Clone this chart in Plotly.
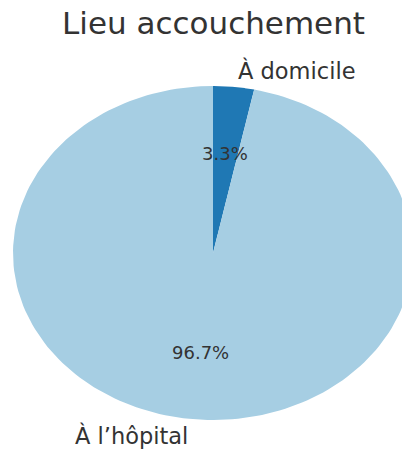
import numpy as np
import plotly.graph_objects as go

# Data
categories = ["À domicile", "À l’hôpital"]
values = [3.3, 96.7]
colors = ["#1f78b4", "#a6cee3"]
title_text = "Lieu accouchement"

W, H = 402, 450
# pie centre and radii in pixels (the pie is drawn as an ellipse)
cx_px, cy_px = 213, 253
rx_px, ry_px = 200, 167

x_range = [-cx_px / rx_px, (W - cx_px) / rx_px]
y_range = [-(H - cy_px) / ry_px, cy_px / ry_px]

font_family = "DejaVu Sans"
text_color = "#333333"

fig = go.Figure()

total = sum(values)
start = 90.0  # start at the top, go clockwise
annotations = []
for cat, val, col in zip(categories, values, colors):
    sweep = 360.0 * val / total
    end = start - sweep
    theta = np.radians(np.linspace(start, end, 200))
    xs = np.concatenate([[0.0], np.cos(theta), [0.0]])
    ys = np.concatenate([[0.0], np.sin(theta), [0.0]])
    fig.add_trace(go.Scatter(
        x=xs, y=ys, mode="lines", fill="toself", fillcolor=col,
        line=dict(width=0, color=col), name=cat,
        hoverinfo="name", showlegend=False,
    ))
    mid = np.radians((start + end) / 2)
    lx, ly = 1.1 * np.cos(mid), 1.1 * np.sin(mid)
    annotations.append(dict(
        x=lx, y=ly, xref="x", yref="y", text=cat, showarrow=False,
        xanchor="left" if lx > 0 else "right", yanchor="middle",
        font=dict(family=font_family, size=22.5, color=text_color),
    ))
    px, py = 0.6 * np.cos(mid), 0.6 * np.sin(mid)
    annotations.append(dict(
        x=px, y=py, xref="x", yref="y", text=f"{val:.1f}%", showarrow=False,
        xanchor="center", yanchor="middle",
        font=dict(family=font_family, size=18, color=text_color),
    ))
    start = end

annotations.append(dict(
    x=cx_px / W, y=1 - 23 / H, xref="paper", yref="paper", text=title_text,
    showarrow=False, xanchor="center", yanchor="middle",
    font=dict(family=font_family, size=31, color=text_color),
))

fig.update_layout(
    width=W, height=H,
    margin=dict(l=0, r=0, t=0, b=0),
    paper_bgcolor="white", plot_bgcolor="white",
    xaxis=dict(range=x_range, visible=False, fixedrange=True),
    yaxis=dict(range=y_range, visible=False, fixedrange=True),
    annotations=annotations,
    showlegend=False,
)

fig.write_html("out.html")
